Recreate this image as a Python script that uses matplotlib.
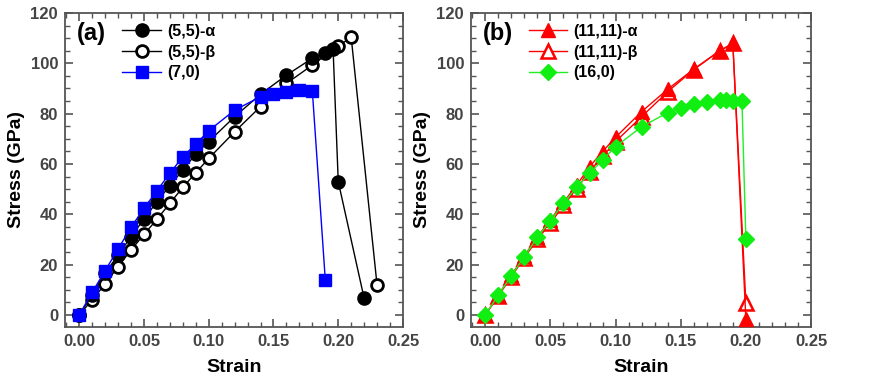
import matplotlib
matplotlib.use("Agg")
import matplotlib.pyplot as plt
from matplotlib.ticker import MultipleLocator

plt.rcParams['font.family'] = ['Liberation Sans', 'DejaVu Sans']
plt.rcParams['font.weight'] = 'bold'

# Panel (a)
strain_a55 = [0, 0.01, 0.02, 0.03, 0.04, 0.05, 0.06, 0.07, 0.08, 0.09, 0.10, 0.12, 0.14, 0.16, 0.18, 0.19, 0.196, 0.20, 0.22]
stress_a55 = [0, 8.0, 16.6, 23.8, 31.1, 38.1, 45.0, 51.4, 57.6, 64.0, 68.9, 78.8, 87.7, 95.3, 102.0, 104.0, 105.8, 53.0, 6.6]
strain_b55 = [0, 0.01, 0.02, 0.03, 0.04, 0.05, 0.06, 0.07, 0.08, 0.09, 0.10, 0.12, 0.14, 0.16, 0.18, 0.20, 0.21, 0.23]
stress_b55 = [0, 6.0, 12.3, 19.2, 25.8, 32.0, 38.0, 44.4, 50.7, 56.5, 62.2, 72.8, 82.8, 92.0, 99.3, 106.9, 110.3, 11.7]
strain_70 = [0, 0.01, 0.02, 0.03, 0.04, 0.05, 0.06, 0.07, 0.08, 0.09, 0.10, 0.12, 0.14, 0.15, 0.16, 0.17, 0.18, 0.19]
stress_70 = [0, 9.0, 17.6, 26.2, 34.8, 42.4, 49.4, 56.3, 62.9, 67.9, 73.2, 81.4, 86.7, 87.7, 88.7, 89.4, 89.0, 13.9]

# Panel (b)
strain_a11 = [0, 0.01, 0.02, 0.03, 0.04, 0.05, 0.06, 0.07, 0.08, 0.09, 0.10, 0.12, 0.14, 0.16, 0.18, 0.19, 0.20]
stress_a11 = [0, 8.0, 15.8, 23.5, 31.0, 37.8, 44.8, 51.5, 58.9, 64.9, 70.6, 80.8, 89.7, 97.7, 105.0, 107.9, -1.7]
strain_b11 = [0, 0.01, 0.02, 0.03, 0.04, 0.05, 0.06, 0.07, 0.08, 0.09, 0.10, 0.12, 0.14, 0.16, 0.18, 0.19, 0.20]
stress_b11 = [0, 7.5, 15.2, 22.8, 30.0, 36.5, 43.5, 50.0, 57.0, 63.0, 68.9, 78.8, 88.7, 97.5, 105.0, 107.9, 4.9]
strain_160 = [0, 0.01, 0.02, 0.03, 0.04, 0.05, 0.06, 0.07, 0.08, 0.09, 0.10, 0.12, 0.14, 0.15, 0.16, 0.17, 0.18, 0.185, 0.19, 0.197, 0.20]
stress_160 = [0, 7.9, 15.6, 23.2, 30.9, 37.5, 44.4, 50.7, 56.3, 61.6, 66.9, 74.8, 80.4, 82.4, 83.7, 84.7, 85.4, 85.4, 85.2, 85.0, 30.1]

xticks = [0.00, 0.05, 0.10, 0.15, 0.20, 0.25]
yticks = [0, 20, 40, 60, 80, 100, 120]

W, H = 872, 389
fig = plt.figure(figsize=(W / 100, H / 100), dpi=100)
axA = fig.add_axes([65 / W, (H - 327) / H, 338 / W, 314 / H])
axB = fig.add_axes([471 / W, (H - 327) / H, 340 / W, 314 / H])

frame_col = '#555555'
tick_col = '#444444'

axA.plot(strain_a55, stress_a55, '-o', color='black', lw=1, ms=9.5, mfc='black', mec='black', label='(5,5)-α', zorder=3)
axA.plot(strain_b55, stress_b55, '-o', color='black', lw=1, ms=8.5, mfc='white', mec='black', mew=2, label='(5,5)-β', zorder=2)
axA.plot(strain_70, stress_70, '-s', color='#0000ff', lw=1, ms=9, mfc='#0000ff', mec='#0000ff', label='(7,0)', zorder=4)

axB.plot(strain_b11, stress_b11, '-^', color='#ff0000', lw=1, ms=10, mfc='white', mec='#ff0000', mew=1.8, label='(11,11)-β', zorder=2)
axB.plot(strain_a11, stress_a11, '-^', color='#ff0000', lw=1, ms=10, mfc='#ff0000', mec='#ff0000', label='(11,11)-α', zorder=3)
axB.plot(strain_160, stress_160, '-D', color='#22ee22', lw=1, ms=8.5, mfc='#11ee11', mec='#11ee11', label='(16,0)', zorder=4)

for ax, tag in ((axA, '(a)'), (axB, '(b)')):
    ax.set_xlim(-0.011, 0.25)
    ax.set_ylim(-4.8, 120)
    ax.set_xticks(xticks)
    ax.set_yticks(yticks)
    ax.xaxis.set_minor_locator(MultipleLocator(0.01))
    ax.yaxis.set_minor_locator(MultipleLocator(5))
    ax.set_xticklabels([f'{v:.2f}' for v in xticks])
    ax.tick_params(which='both', direction='in', top=True, right=True, color=frame_col,
                   labelcolor=tick_col, labelsize=12)
    ax.tick_params(which='major', length=6, width=1.2, pad=5)
    ax.tick_params(which='minor', length=3.5, width=1.0)
    for lab in ax.get_xticklabels() + ax.get_yticklabels():
        lab.set_fontweight('bold')
    for sp in ax.spines.values():
        sp.set_color(frame_col)
        sp.set_linewidth(1.3)
    ax.set_xlabel('Strain', fontsize=14, fontweight='bold', labelpad=7)
    ax.set_ylabel('Stress (GPa)', fontsize=14, fontweight='bold', labelpad=4)
    ax.text(0.035, 0.935, tag, transform=ax.transAxes, fontsize=17, fontweight='bold',
            va='center', ha='left')

hA, lA = axA.get_legend_handles_labels()
axA.legend(hA, lA, loc='upper left', bbox_to_anchor=(0.17, 0.965), frameon=False,
           fontsize=11.5, handlelength=2.4, handletextpad=0.4, labelspacing=0.35,
           borderpad=0, borderaxespad=0)
hB, lB = axB.get_legend_handles_labels()
order = [1, 0, 2]
axB.legend([hB[i] for i in order], [lB[i] for i in order], loc='upper left',
           bbox_to_anchor=(0.17, 0.965), frameon=False,
           fontsize=11.5, handlelength=2.4, handletextpad=0.4, labelspacing=0.35,
           borderpad=0, borderaxespad=0)

fig.savefig('out.png', dpi=100)
